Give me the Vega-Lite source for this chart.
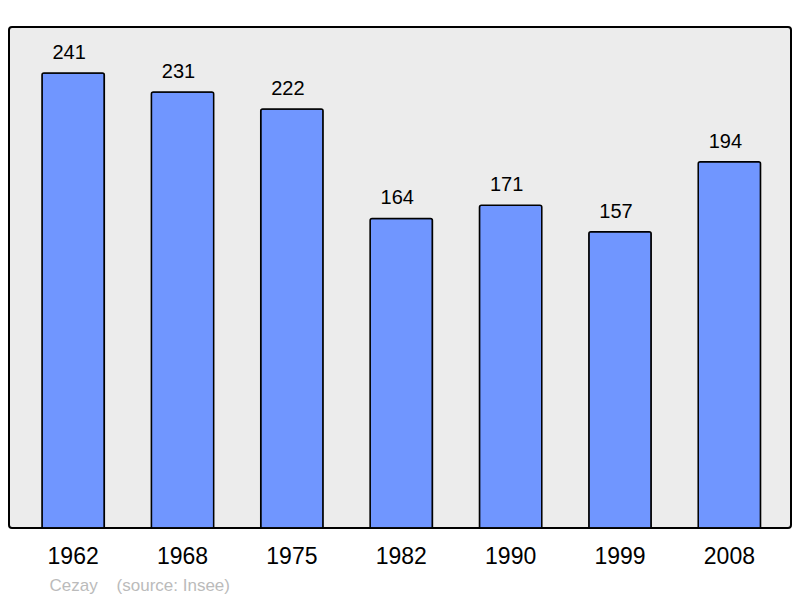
{
  "$schema": "https://vega.github.io/schema/vega-lite/v6.json",
  "width": 782,
  "height": 501,
  "autosize": "none",
  "padding": {"left": 9, "top": 27, "right": 9, "bottom": 70},
  "background": "white",
  "config": {
    "view": {"fill": "#ececec", "stroke": "#000000", "strokeWidth": 2, "cornerRadius": 3},
    "font": "Liberation Sans"
  },
  "data": {
    "values": [
      {"year": "1962", "pop": 241},
      {"year": "1968", "pop": 231},
      {"year": "1975", "pop": 222},
      {"year": "1982", "pop": 164},
      {"year": "1990", "pop": 171},
      {"year": "1999", "pop": 157},
      {"year": "2008", "pop": 194}
    ]
  },
  "encoding": {
    "x": {
      "field": "year",
      "type": "nominal",
      "sort": null,
      "scale": {"paddingInner": 0.43, "paddingOuter": 0.29, "align": 0.52},
      "axis": {
        "domain": false,
        "ticks": false,
        "labelAngle": 0,
        "labelFontSize": 23,
        "labelColor": "#000000",
        "labelPadding": 17.5,
        "title": "Cezay\u00a0\u00a0\u00a0\u00a0(source: Insee)",
        "titleFontSize": 17,
        "titleFontWeight": "normal",
        "titleColor": "#bbbbbb",
        "titleAnchor": "start",
        "titleAlign": "left",
        "titleX": 40,
        "titleY": 62,
        "titleBaseline": "alphabetic"
      }
    },
    "y": {
      "field": "pop",
      "type": "quantitative",
      "scale": {"domain": [0, 265.4], "nice": false},
      "axis": null
    }
  },
  "layer": [
    {
      "mark": {"type": "bar", "fill": "#7096ff", "stroke": "#000000", "strokeWidth": 1.5, "cornerRadiusTopLeft": 2, "cornerRadiusTopRight": 2}
    },
    {
      "mark": {"type": "text", "baseline": "alphabetic", "dy": -14, "dx": -4, "fontSize": 20, "color": "#000000"},
      "encoding": {"text": {"field": "pop", "type": "quantitative"}}
    }
  ]
}
